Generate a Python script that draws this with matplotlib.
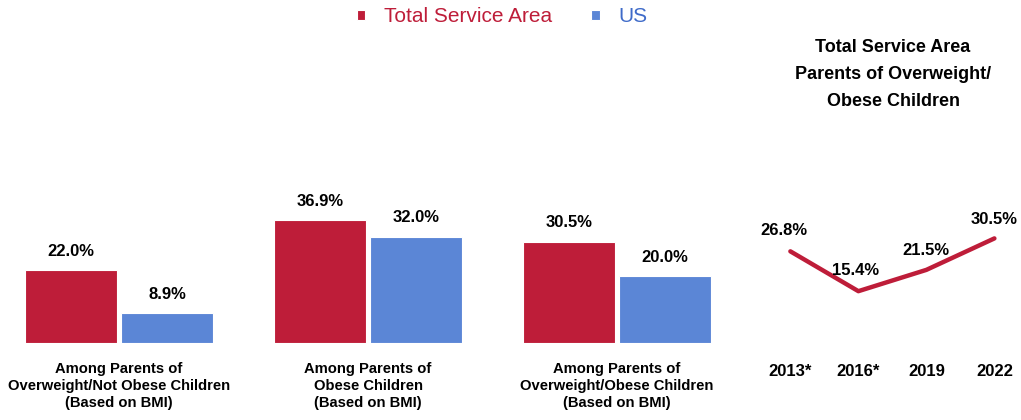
import numpy as np
import matplotlib.pyplot as plt

# datos
categories = ["Among Parents of\nOverweight/Not Obese Children\n(Based on BMI)",
              "Among Parents of\nObese Children\n(Based on BMI)",
              "Among Parents of\nOverweight/Obese Children\n(Based on BMI)"]
service_area = [22.0, 36.9, 30.5]
us = [8.9, 32.0, 20.0]
years = ["2013*", "2016*", "2019", "2022"]
trend = [26.8, 15.4, 21.5, 30.5]

red = '#BE1D39'
blue = '#5B86D6'
blue_txt = '#3F6BC9'

plt.rcParams['font.family'] = ['Liberation Sans', 'DejaVu Sans']

fig = plt.figure(figsize=(10.21, 4.2), dpi=100)

# barras
ax = fig.add_axes([0, 77 / 420, 740 / 1021, 173 / 420])
x = np.arange(len(categories))
w = 0.37
b1 = ax.bar(x - 0.193, service_area, w, color=red, edgecolor='white', linewidth=0.8, label='Total Service Area')
b2 = ax.bar(x + 0.193, us, w, color=blue, edgecolor='white', linewidth=0.8, label='US')
for bars in (b1, b2):
    for r in bars:
        ax.text(r.get_x() + r.get_width() / 2, r.get_height() + 5.6, f"{r.get_height():.1f}%",
                ha='center', va='center', fontsize=12, fontweight='bold')
ax.set_xlim(-0.478, 2.494)
ax.set_ylim(0, 52)
ax.set_xticks(x)
ax.set_xticklabels(categories, fontsize=10.6, fontweight='bold', linespacing=1.25)
ax.tick_params(axis='x', length=0, pad=14)
ax.set_yticks([])
for s in ax.spines.values():
    s.set_visible(False)

leg = fig.legend(handles=[b1, b2], loc='center', bbox_to_anchor=(502 / 1021, 1 - 17 / 420), ncol=2,
                 frameon=False, prop={'family': 'Liberation Sans', 'size': 15},
                 handlelength=0.4, handleheight=0.4, handletextpad=0.9, columnspacing=1.9)
for t, c in zip(leg.get_texts(), [red, blue_txt]):
    t.set_color(c)

# linea
ax2 = fig.add_axes([755 / 1021, 75 / 420, 270 / 1021, 173 / 420])
xl = np.arange(len(years))
ax2.plot(xl, trend, color=red, linewidth=3.2, solid_capstyle='round', solid_joinstyle='round')
offs = [(-0.1, 6.0), (-0.04, 5.9), (0.0, 5.5), (0.0, 5.3)]
for i, v in enumerate(trend):
    ax2.text(xl[i] + offs[i][0], v + offs[i][1], f"{v:.1f}%", ha='center', va='center',
             fontsize=12, fontweight='bold')
ax2.set_xlim(-0.52, 3.45)
ax2.set_ylim(0, 49.5)
ax2.set_xticks(xl)
ax2.set_xticklabels(years, fontsize=12, fontweight='bold')
ax2.tick_params(axis='x', length=0, pad=14)
ax2.set_yticks([])
for s in ax2.spines.values():
    s.set_visible(False)

title_lines = ["Total Service Area", "Parents of Overweight/", "Obese Children"]
for i, line in enumerate(title_lines):
    fig.text(893 / 1021, 1 - (48 + 26.5 * i) / 420, line, ha='center', va='center',
             fontsize=13, fontweight='bold')

fig.savefig('out.png', dpi=100)
